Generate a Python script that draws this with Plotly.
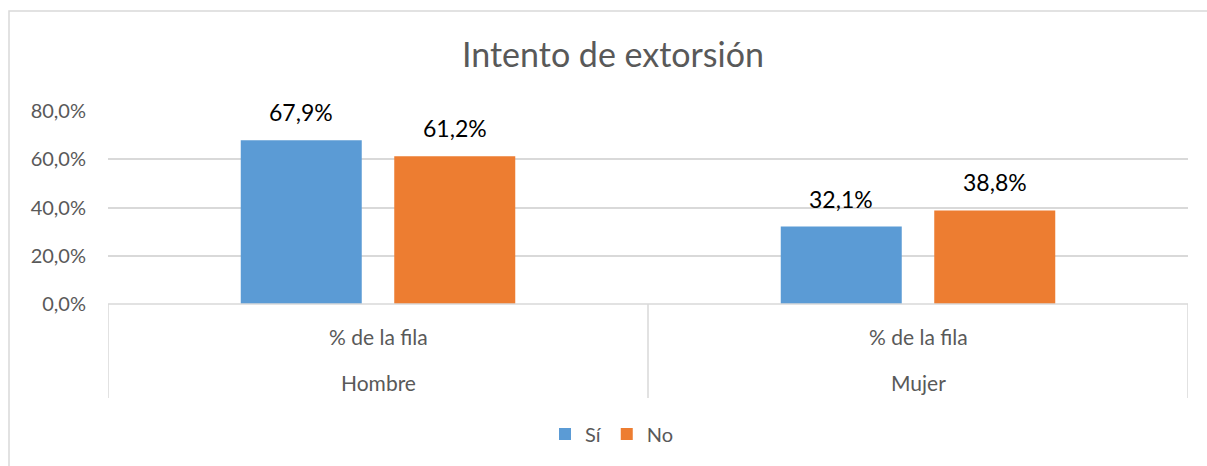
import plotly.graph_objects as go

categories = ["Hombre", "Mujer"]
sublabel = "% de la fila"
series_names = ["Sí", "No"]
si_values = [67.9, 32.1]
no_values = [61.2, 38.8]
tick_vals = [0, 20, 40, 60, 80]
tick_text = ["0,0%", "20,0%", "40,0%", "60,0%", "80,0%"]
title_text = "Intento de extorsión"

W, H = 1207, 466
ML, MR, MT, MB = 108, 19, 111, 162
PW = W - ML - MR
PH = H - MT - MB

def py(ypx):
    return 1 - (ypx - MT) / PH

def px(xpx):
    return (xpx - ML) / PW

FONT = "Lato, 'Open Sans', sans-serif"
GRAY = "#595959"
LINE = "#d9d9d9"
colors = ["#5B9BD5", "#ED7D31"]

fig = go.Figure()
for name, vals, col in zip(series_names, [si_values, no_values], colors):
    fig.add_trace(go.Bar(name=name, x=categories, y=vals, marker_color=col,
                         marker_line_width=0))

annotations = []
for k, vals in enumerate([si_values, no_values]):
    shift = (-1 if k == 0 else 1) * 76.75
    for c, v in zip(categories, vals):
        annotations.append(dict(x=c, y=v, xref="x", yref="y", xshift=shift,
                                yshift=12, yanchor="bottom", showarrow=False,
                                text=f"{v:.1f}".replace(".", ",") + "%",
                                font=dict(family=FONT, size=23, color="#000000")))
for c in categories:
    annotations.append(dict(x=c, y=py(336), xref="x", yref="paper", showarrow=False,
                            text=sublabel, font=dict(family=FONT, size=21, color=GRAY),
                            yanchor="middle"))
    annotations.append(dict(x=c, y=py(382), xref="x", yref="paper", showarrow=False,
                            text=c, font=dict(family=FONT, size=21, color=GRAY),
                            yanchor="middle"))

shapes = []
for xv in [-0.5, 0.5, 1.5]:
    shapes.append(dict(type="line", xref="x", yref="paper", x0=xv, x1=xv,
                       y0=0, y1=py(398), line=dict(color=LINE, width=1.5)))
shapes.append(dict(type="line", xref="paper", yref="paper", x0=0, x1=1, y0=0, y1=0,
                   line=dict(color=LINE, width=1.5)))
shapes.append(dict(type="rect", xref="paper", yref="paper", x0=px(9), x1=px(1215),
                   y0=py(475), y1=py(11), line=dict(color=LINE, width=1.5)))

fig.update_layout(
    width=W, height=H,
    margin=dict(l=ML, r=MR, t=MT, b=MB, autoexpand=False),
    paper_bgcolor="white", plot_bgcolor="white",
    barmode="group", bargap=0.4315, bargroupgap=0.2117,
    title=dict(text=title_text, x=px(613), xanchor="center", xref="paper",
               y=1 - 55 / H, yanchor="middle",
               font=dict(family=FONT, size=34, color=GRAY)),
    font=dict(family=FONT, color=GRAY),
    xaxis=dict(showticklabels=False, showgrid=False, zeroline=False, showline=False,
               range=[-0.5, 1.5]),
    yaxis=dict(range=[0, 80], tickvals=tick_vals, ticktext=tick_text,
               showgrid=True, gridcolor=LINE, gridwidth=1.5, zeroline=False,
               showline=False, ticks="", ticklabelstandoff=21,
               tickfont=dict(family=FONT, size=20, color=GRAY)),
    legend=dict(orientation="h", x=px(612), xanchor="center", y=py(434),
                yanchor="middle", font=dict(family=FONT, size=20, color=GRAY),
                itemwidth=30, traceorder="normal"),
    annotations=annotations, shapes=shapes,
)

fig.write_html("out.html", post_script="document.body.style.margin='0';",
               config={"displayModeBar": False})
